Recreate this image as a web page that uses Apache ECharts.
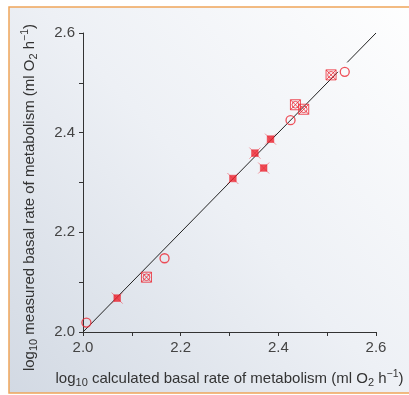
<!DOCTYPE html>
<html><head><meta charset="utf-8">
<script src="https://cdn.jsdelivr.net/npm/echarts@6/dist/echarts.min.js"></script>
<style>html,body{margin:0;padding:0;background:#fff}#c{width:409px;height:395px}</style>
</head><body><div id="c"></div>
<script>
// Data
const openCircles = [[2.007,2.019],[2.167,2.148],[2.425,2.425],[2.536,2.522]];
const filledMarks = [[2.070,2.068],[2.307,2.308],[2.352,2.359],[2.370,2.329],[2.384,2.387]];
const crossedMarks = [[2.130,2.110],[2.435,2.456],[2.452,2.447],[2.508,2.516]];
const lineLower = [[2.0,2.0],[2.522,2.522]];
const lineUpper = [[2.541,2.541],[2.6,2.6]];
const axisMin = 2.0, axisMax = 2.6, tickStep = 0.1;

const red = '#ec2430';
const chart = echarts.init(document.getElementById('c'), null, {renderer:'canvas'});
const fontFam = '"Liberation Sans", Arial, sans-serif';
const lbl = v => (Math.round(v*10) % 2 === 0) ? v.toFixed(1) : '';
const rich = {
  n:{fontSize:15, color:'#333', fontFamily:fontFam},
  sub:{fontSize:11, color:'#333', fontFamily:fontFam, verticalAlign:'bottom', padding:[8,0,0,0]},
  sup:{fontSize:10.5, color:'#333', fontFamily:fontFam, verticalAlign:'top', padding:[0,0,6,0]}
};
chart.setOption({
  animation:false,
  graphic:[{
    type:'rect', z:-10, silent:true,
    shape:{x:9, y:7, width:420, height:386},
    style:{
      fill:{type:'linear', x:0, y:1, x2:1, y2:0, colorStops:[
        {offset:0, color:'#d2d9e3'},{offset:0.5, color:'#edf0f5'},{offset:1, color:'#ffffff'}]},
      stroke:'#f0a55a', lineWidth:1.5
    }
  }],
  grid:{left:83, right:33, top:33, bottom:63},
  xAxis:{
    type:'value', min:axisMin, max:axisMax, interval:tickStep,
    splitLine:{show:false},
    axisLine:{lineStyle:{color:'#333', width:1}},
    axisTick:{length:4, lineStyle:{color:'#333'}},
    axisLabel:{formatter:lbl, fontSize:15, color:'#444', margin:8, fontFamily:fontFam},
    name:'{n|log}{sub|10}{n| calculated basal rate of metabolism (ml O}{sub|2}{n| h}{sup|−1}{n|)}',
    nameLocation:'middle', nameGap:37,
    nameTextStyle:{rich:rich}
  },
  yAxis:{
    type:'value', min:axisMin, max:axisMax, interval:tickStep,
    splitLine:{show:false},
    axisLine:{show:true, lineStyle:{color:'#333', width:1}},
    axisTick:{show:true, length:4, lineStyle:{color:'#333'}},
    axisLabel:{formatter:lbl, fontSize:15, color:'#444', margin:8, fontFamily:fontFam},
    name:'{n|log}{sub|10}{n| measured basal rate of metabolism (ml O}{sub|2}{n| h}{sup|−1}{n|)}',
    nameLocation:'middle', nameGap:44,
    nameTextStyle:{rich:rich, padding:[0,30,0,0]}
  },
  series:[
    {type:'line', data:lineLower, symbol:'none', lineStyle:{color:'#222', width:1}, z:1, silent:true},
    {type:'line', data:lineUpper, symbol:'none', lineStyle:{color:'#222', width:1}, z:1, silent:true},
    {type:'scatter', data:openCircles, symbol:'circle', symbolSize:9, z:3,
      itemStyle:{color:'rgba(255,255,255,0)', borderColor:red, borderWidth:1.3}},
    {type:'scatter', data:filledMarks, symbol:'path://M0,0L10,10M10,0L0,10M2,2L8,2L8,8L2,8Z', symbolSize:11, z:3,
      itemStyle:{color:red, borderColor:red, borderWidth:0.6}},
    {type:'scatter', data:crossedMarks,
      symbol:'path://M1,1L9,1L9,9L1,9Z M1,1L9,9 M9,1L1,9 M5,2.3A2.7,2.7,0,1,1,4.99,2.3Z', symbolSize:10, z:3,
      itemStyle:{color:'rgba(255,255,255,0)', borderColor:red, borderWidth:1}}
  ]
});
</script></body></html>
